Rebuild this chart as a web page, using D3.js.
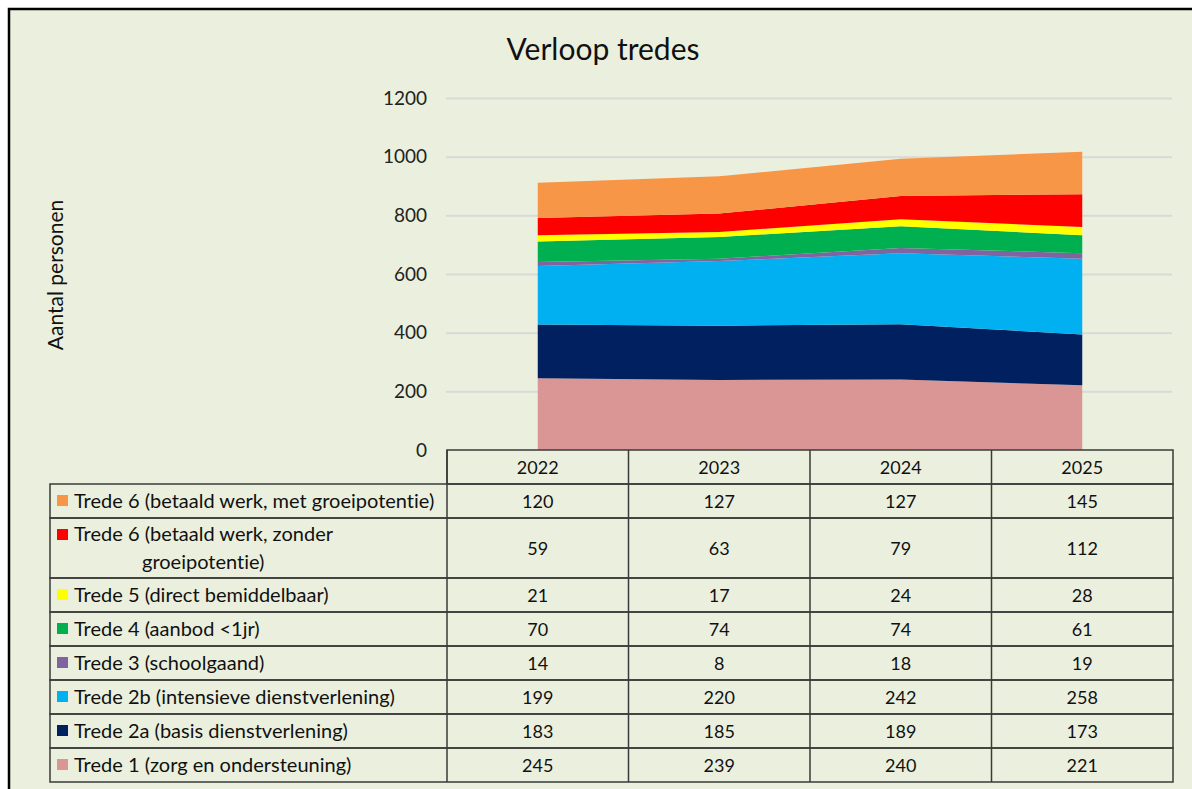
<!DOCTYPE html>
<html><head><meta charset="utf-8">
<script src="https://cdn.jsdelivr.net/npm/d3@7"></script>
<style>
html,body{margin:0;padding:0;background:#fff;}
svg{display:block;font-family:Lato,"Open Sans",sans-serif;font-variant-ligatures:none;font-feature-settings:"liga" 0;}
</style></head>
<body>
<svg id="chart" width="1192" height="789"></svg>
<script>
const years = ["2022","2023","2024","2025"];
// bottom-to-top stacking order
const seriesNames = [
  "Trede 1 (zorg en ondersteuning)",
  "Trede 2a (basis dienstverlening)",
  "Trede 2b (intensieve dienstverlening)",
  "Trede 3 (schoolgaand)",
  "Trede 4 (aanbod <1jr)",
  "Trede 5 (direct bemiddelbaar)",
  "Trede 6 (betaald werk, zonder groeipotentie)",
  "Trede 6 (betaald werk, met groeipotentie)"
];
const trede1  = [245,239,240,221];
const trede2a = [183,185,189,173];
const trede2b = [199,220,242,258];
const trede3  = [14,8,18,19];
const trede4  = [70,74,74,61];
const trede5  = [21,17,24,28];
const trede6z = [59,63,79,112];
const trede6m = [120,127,127,145];
const seriesValues = [trede1,trede2a,trede2b,trede3,trede4,trede5,trede6z,trede6m];
const colors = ["#DA9694","#002060","#00B0F0","#8064A2","#00B050","#FFFF00","#FF0000","#F79646"];
const yTicks = [0,200,400,600,800,1000,1200];
const title = "Verloop tredes";
const yLabel = "Aantal personen";

const svg = d3.select("#chart");
// background and frame
svg.append("rect").attr("x",9).attr("y",9).attr("width",1200).attr("height",800)
  .attr("fill","#EBF0DE").attr("stroke","#000").attr("stroke-width",2.5);

const x = d3.scaleBand().domain(years).range([447,1173]).padding(0);
const xc = d => x(d) + x.bandwidth()/2;
const y = d3.scaleLinear().domain([0,1200]).range([450,98]);

// gridlines + y axis
const gAxis = svg.append("g").attr("transform","translate(446,0)")
  .call(d3.axisLeft(y).tickValues(yTicks).tickSize(-726).tickPadding(19).tickFormat(d3.format("d")));
gAxis.select(".domain").remove();
gAxis.selectAll(".tick line").attr("stroke","#D9D9D9").attr("stroke-width",2)
  .filter(d=>d===0).remove();
gAxis.selectAll(".tick text").attr("font-size",19).attr("fill","#222").attr("font-family","Lato,sans-serif");

// stacked areas
const rows = years.map((yr,i)=>{ const o={year:yr}; seriesNames.forEach((s,k)=>o[s]=seriesValues[k][i]); return o; });
const stack = d3.stack().keys(seriesNames)(rows);
const area = d3.area().x(d=>xc(d.data.year)).y0(d=>y(d[0])).y1(d=>y(d[1]));
svg.append("g").selectAll("path").data(stack).join("path")
  .attr("d",area).attr("fill",(d,i)=>colors[i]);

// title
svg.append("text").attr("x",603).attr("y",60).attr("text-anchor","middle")
  .attr("font-size",30).attr("fill","#111").text(title);
// y label
svg.append("text").attr("transform","translate(63,275) rotate(-90)").attr("text-anchor","middle")
  .attr("font-size",21).attr("fill","#111").text(yLabel);

// data table
const tbl = svg.append("g");
const lineColor = "#3a3a3a";
const rowH = [34,60,34,34,34,34,34,34];
const tableTop = 484, leftX = 50, colX0 = 447, right = 1173;
// header
tbl.append("rect").attr("x",colX0).attr("y",450).attr("width",right-colX0).attr("height",34)
  .attr("fill","none").attr("stroke",lineColor).attr("stroke-width",1.5);
years.forEach(yr=>{
  tbl.append("line").attr("x1",x(yr)).attr("x2",x(yr)).attr("y1",450).attr("y2",782)
    .attr("stroke",lineColor).attr("stroke-width",1.5);
  tbl.append("text").attr("x",xc(yr)).attr("y",474).attr("text-anchor","middle")
    .attr("font-size",18).attr("fill","#111").text(yr);
});
const order = d3.range(seriesNames.length).reverse();
let yy = tableTop;
order.forEach((k,r)=>{
  const h = rowH[r];
  tbl.append("rect").attr("x",leftX).attr("y",yy).attr("width",right-leftX).attr("height",h)
    .attr("fill","none").attr("stroke",lineColor).attr("stroke-width",1.5);
  const keyY = h > 40 ? yy + 11 : yy + h/2 - 6;
  tbl.append("rect").attr("x",57).attr("y",keyY).attr("width",11).attr("height",11).attr("fill",colors[k]);
  const name = seriesNames[k];
  if (h > 40) {
    const t = tbl.append("text").attr("font-size",20).attr("fill","#111");
    t.append("tspan").attr("x",74).attr("y",yy+23).text("Trede 6 (betaald werk, zonder");
    t.append("tspan").attr("x",142).attr("y",yy+51).text("groeipotentie)");
  } else {
    tbl.append("text").attr("x",74).attr("y",yy+h/2+7).attr("font-size",20).attr("fill","#111").text(name);
  }
  years.forEach((yr,i)=>{
    tbl.append("text").attr("x",xc(yr)).attr("y",yy+h/2+7).attr("text-anchor","middle")
      .attr("font-size",18).attr("fill","#111").text(seriesValues[k][i]);
  });
  yy += h;
});
</script>
</body></html>
